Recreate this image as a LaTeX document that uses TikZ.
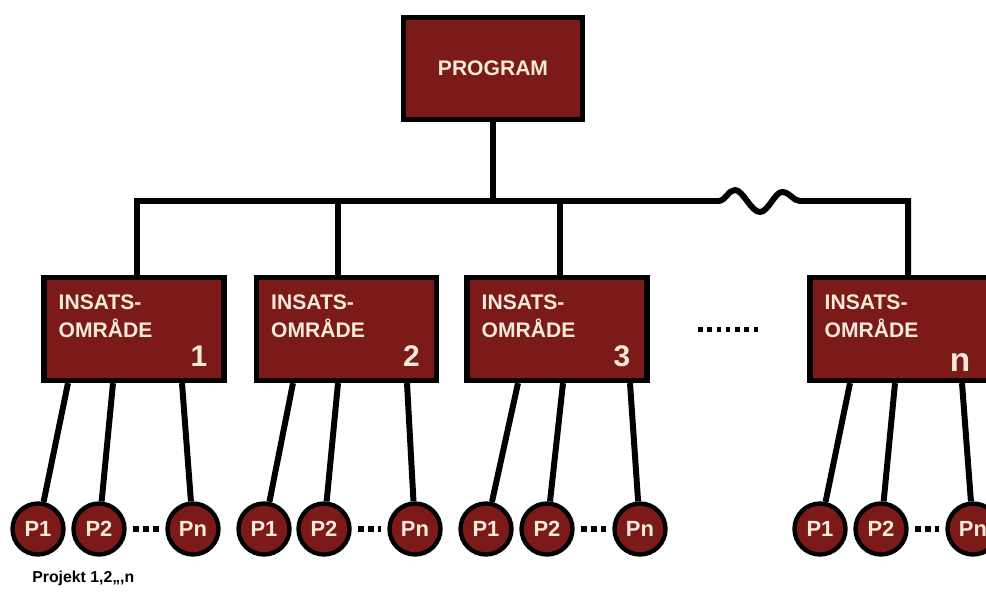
\documentclass[tikz,border=0pt]{standalone}
\usepackage{fontspec}
\setsansfont{Liberation Sans}
\usepackage{tikz}
\usetikzlibrary{calc}
\definecolor{boxred}{RGB}{124,26,26}
\definecolor{cream}{RGB}{243,234,216}

\begin{document}
\begin{tikzpicture}
      [
        x=0.02cm, y=0.02cm,
        wire/.style={line width=3.4pt},
        progbox/.style={draw, line width=3pt, fill=boxred, minimum width=3.58cm, minimum height=2.04cm, text=cream, font=\sffamily\bfseries\fontsize{12}{14}\selectfont},
        insbox/.style={draw, line width=3pt, fill=boxred, minimum width=3.6cm, minimum height=2.06cm},
        instext/.style={anchor=north west, inner sep=0pt, align=left, text=cream, font=\sffamily\bfseries\fontsize{12}{15.4}\selectfont},
        insnum/.style={anchor=base east, inner sep=0pt, text=cream, font=\sffamily\bfseries\fontsize{17}{20}\selectfont},
        proj/.style={circle, draw, line width=2.5pt, fill=boxred, minimum size=1.02cm, inner sep=0pt, text=cream, font=\sffamily\bfseries\fontsize{12.5}{14}\selectfont},
        projdots/.style={line width=0.11cm, dash pattern=on 0.11cm off 0.09cm, shorten <=0.13cm, shorten >=0.13cm},
        areadots/.style={line width=0.1cm, dash pattern=on 0.09cm off 0.095cm, shorten <=0.97cm, shorten >=0.96cm}
      ]
      \useasboundingbox (0,0) rectangle (986,-598);
      % program
      \node [progbox] (prog) at (493,-68.5) {PROGRAM};
      % insatsomraden
      \foreach \i/\x in {1/134,2/346.5,3/557,n/900} {
          \node [insbox] (ins\i) at (\x,-329) {};
          \node [instext] (ins\i txt) at ($(ins\i.north west)+(17,-20)$) {INSATS-\\OMRÅDE};
      }
      \foreach \i in {1,2,3} {
          \node [insnum] (ins\i num) at ($(ins\i.south east)+(-19,17)$) {\i};
      }
      \node [insnum, font=\sffamily\bfseries\fontsize{19}{22}\selectfont] (insnnum) at ($(insn.south east)+(-22,12)$) {n};
      % projekt
      \foreach \g/\a/\b/\c in {1/38/99/193,2/264/324/415,3/486/547/640,n/820/881/973} {
          \node [proj] (p\g-1) at (\a,-529) {P1};
          \node [proj] (p\g-2) at (\b,-529) {P2};
          \node [proj] (p\g-n) at (\c,-529) {Pn};
          \draw [projdots] (p\g-2) -- (p\g-n);
      }
      \node [anchor=base west, inner sep=0pt, font=\sffamily\bfseries\fontsize{9}{11}\selectfont] (projlabel) at (32,-582) {Projekt 1,2,,,n};
      % bus
      \coordinate (d1) at (137,-201);
      \coordinate (d2) at (338,-201);
      \coordinate (d3) at (560,-201);
      \coordinate (dn) at (908,-201);
      \coordinate (w1) at (718,-201);
      \coordinate (w2) at (800,-201);
      \draw [wire] (prog) -- (prog.south |- d1);
      \draw [wire] (d1 |- ins1.north) -- (d1) -- (w1)
      .. controls (726,-201) and (728,-190) .. (735,-190)
      .. controls (743,-190) and (751,-212) .. (760,-212)
      .. controls (768,-212) and (775,-192) .. (782,-192)
      .. controls (790,-192) and (793,-201) .. (w2) -- (dn) -- (dn |- insn.north);
      \draw [wire] (d2) -- (d2 |- ins2.north);
      \draw [wire] (d3) -- (d3 |- ins3.north);
      \draw [areadots] (ins3) -- (insn);
      % edges
      \foreach \g/\a/\b/\c in {1/68/113/182,2/293/338/407,3/518/563/630,n/850/895/962} {
          \draw [wire] (\a,0 |- ins\g.south) -- (p\g-1);
          \draw [wire] (\b,0 |- ins\g.south) -- (p\g-2);
          \draw [wire] (\c,0 |- ins\g.south) -- (p\g-n);
      }
\end{tikzpicture}
\end{document}
